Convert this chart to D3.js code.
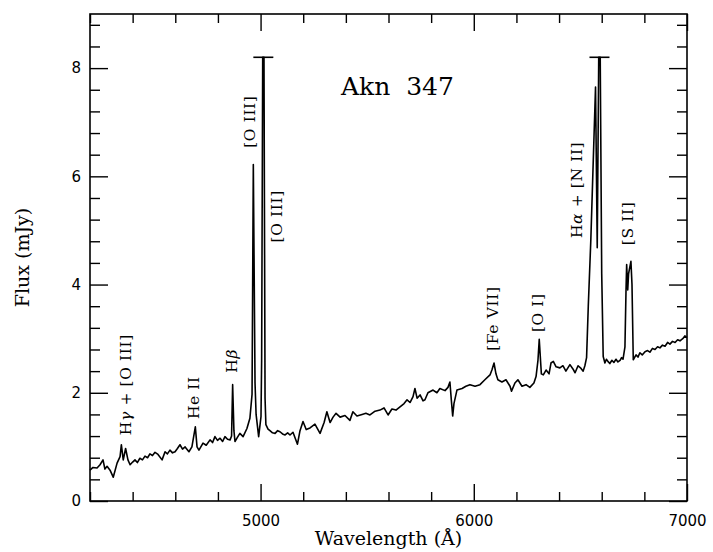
<!DOCTYPE html>
<html>
<head>
<meta charset="utf-8">
<title>Akn 347</title>
<script src="https://d3js.org/d3.v7.min.js"></script>
<style>
  body { margin: 0; background: #fff; }
  text { fill: #000; }
</style>
</head>
<body>
<div class="chart"></div>
<script>
// spectrum (wavelength in Angstrom, flux in mJy)
const wavelength = [4200,4214,4233,4247,4261,4270,4280,4294,4309,4327,4341,4347,4356,4367,4378,4388,4400,4411,4422,4434,
  4446,4458,4470,4481,4493,4505,4519,4538,4552,4563,4575,4587,4599,4610,4622,4634,4646,4664,4678,4694,
  4702,4711,4730,4745,4763,4775,4786,4798,4810,4822,4833,4845,4857,4864,4869,4875,4880,4892,4903,4918,
  4936,4950,4960,4966,4974,4979,4991,5002,5005,5010,5016,5021,5025,5035,5044,5056,5068,5080,5091,5103,
  5115,5127,5138,5152,5173,5185,5199,5214,5232,5255,5279,5298,5311,5326,5340,5354,5373,5396,5419,5433,
  5452,5476,5494,5513,5537,5560,5579,5598,5616,5635,5654,5673,5687,5701,5715,5724,5734,5748,5762,5771,
  5785,5809,5827,5841,5865,5879,5888,5895,5901,5907,5921,5945,5963,5982,6006,6029,6052,6076,6085,6095,
  6104,6113,6132,6151,6170,6177,6193,6207,6226,6245,6263,6282,6292,6301,6307,6313,6317,6326,6339,6353,
  6362,6373,6386,6404,6418,6432,6451,6465,6475,6489,6503,6513,6521,6529,6537,6549,6571,6579,6586,6593,
  6600,6607,6615,6622,6629,6638,6648,6657,6667,6676,6686,6693,6700,6709,6714,6717,6722,6726,6737,6742,
  6748,6761,6770,6779,6790,6803,6815,6826,6838,6850,6862,6873,6885,6897,6909,6920,6932,6944,6956,6967,
  6980,6990,7000];
const flux = [0.57,0.62,0.61,0.67,0.76,0.59,0.64,0.57,0.44,0.70,0.82,1.04,0.76,0.97,0.76,0.67,0.72,0.76,0.71,0.79,
  0.76,0.83,0.80,0.87,0.84,0.90,0.86,0.76,0.91,0.87,0.94,0.89,0.91,0.97,1.04,0.96,1.00,0.91,1.00,1.37,
  1.00,0.94,1.07,1.03,1.13,1.08,1.19,1.12,1.16,1.10,1.19,1.14,1.13,1.20,2.15,1.30,1.10,1.18,1.25,1.19,
  1.34,1.53,1.97,6.22,2.18,1.60,1.19,1.56,2.60,8.20,8.20,1.90,1.41,1.33,1.30,1.26,1.25,1.30,1.28,1.24,
  1.22,1.26,1.22,1.27,1.05,1.30,1.47,1.32,1.35,1.42,1.25,1.45,1.65,1.45,1.55,1.62,1.55,1.58,1.49,1.65,
  1.57,1.60,1.62,1.59,1.66,1.68,1.72,1.59,1.70,1.68,1.74,1.80,1.87,1.82,1.93,2.08,1.90,1.96,1.85,1.87,
  2.00,2.05,2.00,2.08,2.04,2.10,2.20,1.85,1.57,1.80,2.05,2.08,2.12,2.15,2.12,2.15,2.24,2.33,2.42,2.55,
  2.35,2.24,2.20,2.24,2.12,2.03,2.18,2.24,2.12,2.15,2.10,2.18,2.30,2.60,2.99,2.60,2.35,2.33,2.42,2.35,
  2.55,2.58,2.48,2.46,2.50,2.40,2.52,2.44,2.37,2.50,2.45,2.40,2.50,2.65,3.60,4.83,7.65,4.68,8.20,8.20,
  4.20,2.67,2.55,2.62,2.58,2.54,2.60,2.56,2.62,2.57,2.60,2.65,2.62,2.85,3.90,4.37,3.90,4.20,4.43,4.00,
  2.61,2.70,2.66,2.74,2.70,2.76,2.78,2.75,2.82,2.80,2.85,2.83,2.88,2.86,2.93,2.90,2.95,2.93,2.98,2.96,
  3.00,3.05,3.02];

// lines that run off the top of the plot are cut at this flux
const clipFlux = 8.2;

// line identifications (label centre in data units)
const lineLabels = [
  [{t:"H"},{t:"γ",i:true},{t:" + [O III]"}],
  [{t:"He II"}],
  [{t:"H"},{t:"β",i:true}],
  [{t:"[O III]"}],
  [{t:"[O III]"}],
  [{t:"[Fe VII]"}],
  [{t:"[O I]"}],
  [{t:"H"},{t:"α",i:true},{t:" + [N II]"}],
  [{t:"[S II]"}]
];
const labelWl   = [4369, 4688, 4866, 4950, 5075, 6090, 6301, 6484, 6723];
const labelFlux = [2.15, 1.91, 2.59, 7.01, 5.26, 3.37, 3.48, 5.75, 5.13];

const objectName = "Akn  347";
const xMajorTicks = [5000, 6000, 7000];
const yMajorTicks = [0, 2, 4, 6, 8];

const width = 713, height = 552;
const margin = {top: 14, right: 26, bottom: 51, left: 90};

const svg = d3.select('.chart').append('svg')
  .attr('width', width).attr('height', height);

const x = d3.scaleLinear().domain([4200, 7000]).range([margin.left, width - margin.right]);
const y = d3.scaleLinear().domain([0, 9]).range([height - margin.bottom, margin.top]);

const xMinor = d3.range(4200, 7001, 200).filter(v => v % 1000 !== 0);
const yMinor = d3.range(0.4, 9, 0.4).map(v => +v.toFixed(1)).filter(v => v % 2 !== 0);

const tickFont = '15px "DejaVu Sans", sans-serif';
const serif = '"DejaVu Serif", serif';

function styleAxis(g) {
  g.select('.domain').remove();
  g.selectAll('line').attr('stroke', '#000').attr('stroke-width', 1.4);
  g.selectAll('text').style('font', tickFont);
}

// bottom
svg.append('g').attr('transform', `translate(0,${y(0)})`)
  .call(d3.axisBottom(x).tickValues(xMajorTicks).tickSize(-17).tickPadding(14).tickFormat(d3.format('d')))
  .call(styleAxis);
svg.append('g').attr('transform', `translate(0,${y(0)})`)
  .call(d3.axisBottom(x).tickValues(xMinor).tickSize(-9).tickFormat(''))
  .call(styleAxis);
// top
svg.append('g').attr('transform', `translate(0,${y(9)})`)
  .call(d3.axisTop(x).tickValues(xMajorTicks).tickSize(-17).tickFormat(''))
  .call(styleAxis);
svg.append('g').attr('transform', `translate(0,${y(9)})`)
  .call(d3.axisTop(x).tickValues(xMinor).tickSize(-9).tickFormat(''))
  .call(styleAxis);
// left
svg.append('g').attr('transform', `translate(${x(4200)},0)`)
  .call(d3.axisLeft(y).tickValues(yMajorTicks).tickSize(-18).tickPadding(9).tickFormat(d3.format('d')))
  .call(styleAxis);
svg.append('g').attr('transform', `translate(${x(4200)},0)`)
  .call(d3.axisLeft(y).tickValues(yMinor).tickSize(-10).tickFormat(''))
  .call(styleAxis);
// right
svg.append('g').attr('transform', `translate(${x(7000)},0)`)
  .call(d3.axisRight(y).tickValues(yMajorTicks).tickSize(-18).tickFormat(''))
  .call(styleAxis);
svg.append('g').attr('transform', `translate(${x(7000)},0)`)
  .call(d3.axisRight(y).tickValues(yMinor).tickSize(-10).tickFormat(''))
  .call(styleAxis);

// frame
svg.append('rect')
  .attr('x', x(4200)).attr('y', y(9))
  .attr('width', x(7000) - x(4200)).attr('height', y(0) - y(9))
  .attr('fill', 'none').attr('stroke', '#000').attr('stroke-width', 1.6);

// spectrum
const pts = wavelength.map((w, i) => [w, Math.min(flux[i], clipFlux)]);
svg.append('path')
  .datum(pts)
  .attr('fill', 'none')
  .attr('stroke', '#000')
  .attr('stroke-width', 1.6)
  .attr('stroke-linejoin', 'round')
  .attr('d', d3.line().x(d => x(d[0])).y(d => y(d[1])));

// caps on clipped lines
const caps = [];
let run = [];
pts.forEach(p => {
  if (p[1] >= clipFlux) run.push(p[0]);
  else if (run.length) { caps.push(d3.mean(run)); run = []; }
});
svg.selectAll('.cap').data(caps).join('line')
  .attr('class', 'cap')
  .attr('x1', d => x(d) - 10).attr('x2', d => x(d) + 10)
  .attr('y1', y(clipFlux)).attr('y2', y(clipFlux))
  .attr('stroke', '#000').attr('stroke-width', 1.6);

// line labels, rotated
lineLabels.forEach((parts, i) => {
  const t = svg.append('text')
    .attr('transform', `translate(${x(labelWl[i])},${y(labelFlux[i])}) rotate(-90)`)
    .attr('text-anchor', 'middle')
    .attr('dy', '0.35em')
    .style('font-family', serif)
    .style('font-size', '15.5px')
    .style('letter-spacing', '0.6px')
    .style('white-space', 'pre');
  parts.forEach(p => t.append('tspan').text(p.t).style('font-style', p.i ? 'italic' : 'normal'));
});

// object name
svg.append('text')
  .attr('x', x(5642)).attr('y', y(7.51))
  .attr('text-anchor', 'middle')
  .style('font-family', serif)
  .style('font-size', '25px')
  .style('white-space', 'pre')
  .text(objectName);

// axis titles
svg.append('text')
  .attr('x', (x(4200) + x(7000)) / 2).attr('y', 545)
  .attr('text-anchor', 'middle')
  .style('font-family', serif).style('font-size', '19px')
  .text('Wavelength (Å)');
svg.append('text')
  .attr('transform', `translate(29,${(y(0) + y(9)) / 2}) rotate(-90)`)
  .attr('text-anchor', 'middle')
  .style('font-family', serif).style('font-size', '19px')
  .text('Flux (mJy)');
</script>
</body>
</html>
